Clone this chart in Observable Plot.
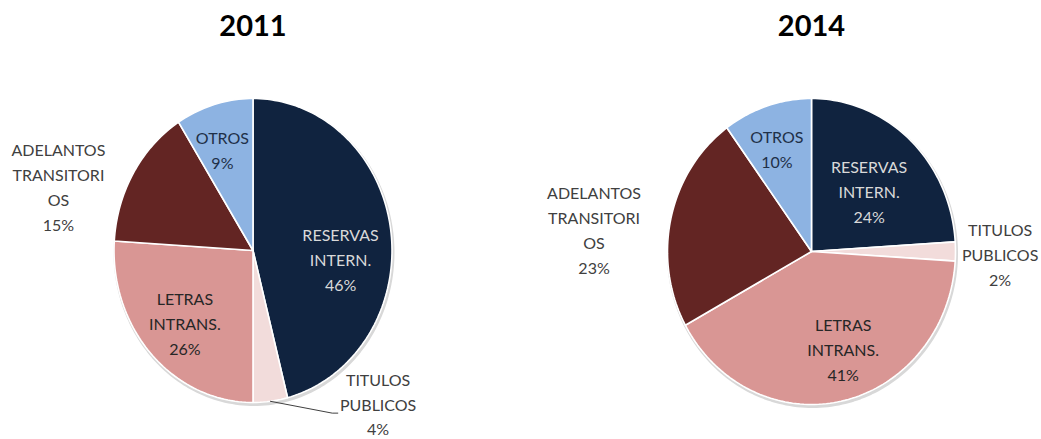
<!DOCTYPE html>
<html><head><meta charset="utf-8">
<script src="https://cdn.jsdelivr.net/npm/d3@7"></script>
<script src="https://cdn.jsdelivr.net/npm/@observablehq/plot@0.6"></script>
<style>body{margin:0;background:#fff}</style>
</head><body><div id="chart"></div>
<script>
// ---- data ----
const categories = ["RESERVAS INTERN.", "TITULOS PUBLICOS", "LETRAS INTRANS.", "ADELANTOS TRANSITORIOS", "OTROS"];
const labelLines = [["RESERVAS", "INTERN."], ["TITULOS", "PUBLICOS"], ["LETRAS", "INTRANS."], ["ADELANTOS", "TRANSITORI", "OS"], ["OTROS"]];
const years = ["2011", "2014"];
const values2011 = [46, 4, 26, 15, 9];
const values2014 = [24, 2, 41, 23, 10];

// ---- styles / layout ----
const sliceColors = ["#10233F", "#F2DCDB", "#D99694", "#632523", "#8DB3E2"];
const insideText = ["#D9D9D9", "#404040", "#262626", "#404040", "#1F3048"];
const outsideText = "#404040";
const pies = [
  {year: years[0], values: values2011, cx: 252.5, cy: 250, rx: 139, ry: 152,
   labels: [[0.63, 0.05, true], [0.90, 1.0, false], [-0.49, 0.47, true], [-1.40, -0.43, false], [-0.22, -0.67, true]],
   leader: [[0.57, 1.07], [0.61, 1.07]]},
  {year: years[1], values: values2014, cx: 811, cy: 251, rx: 144, ry: 153,
   labels: [[0.40, -0.40, true], [1.31, 0.01, false], [0.22, 0.63, true], [-1.51, -0.15, false], [-0.24, -0.68, true]],
   leader: null}
];

const font = "Lato, 'Open Sans', sans-serif";
const slicePts = [], ringPts = [], labelRows = [], leaderPts = [], titleRows = [];
const pieGen = d3.pie().sort(null).value(d => d);

pies.forEach(p => {
  const arcs = pieGen(p.values);
  const toXY = a => [p.cx + p.rx * Math.sin(a), p.cy - p.ry * Math.cos(a)];
  for (let i = 0; i <= 240; i++) {
    const [x, y] = toXY(2 * Math.PI * i / 240);
    ringPts.push({x, y, key: p.year});
  }
  arcs.forEach((a, i) => {
    const key = p.year + "-" + i;
    slicePts.push({x: p.cx, y: p.cy, key, color: sliceColors[i]});
    const n = Math.max(2, Math.ceil((a.endAngle - a.startAngle) / (2 * Math.PI) * 240));
    for (let k = 0; k <= n; k++) {
      const ang = a.startAngle + (a.endAngle - a.startAngle) * k / n;
      const [x, y] = toXY(ang);
      slicePts.push({x, y, key, color: sliceColors[i]});
    }
    const [lx, ly, inside] = p.labels[i];
    labelRows.push({
      x: p.cx + lx * p.rx, y: p.cy + ly * p.ry,
      text: [...labelLines[i], p.values[i] + "%"].join("\n"),
      color: inside ? insideText[i] : outsideText
    });
    if (i === 1 && p.leader) {
      const mid = (a.startAngle + a.endAngle) / 2;
      const [ex, ey] = toXY(mid);
      leaderPts.push({x: ex, y: ey});
      p.leader.forEach(([u, v]) => leaderPts.push({x: p.cx + u * p.rx, y: p.cy + v * p.ry}));
    }
  });
  titleRows.push({x: p.cx, y: 26, text: p.year});
});

const chart = Plot.plot({
  width: 1041, height: 439, margin: 0,
  x: {domain: [0, 1041], range: [0, 1041], axis: null},
  y: {domain: [0, 439], range: [0, 439], axis: null},
  color: {type: "identity"},
  style: {fontFamily: font, background: "#fff"},
  marks: [
    Plot.line(ringPts, {x: "x", y: "y", z: "key", curve: "linear-closed", fill: "#cfcfcf", stroke: "#d8d8d8", strokeWidth: 3, dx: 1, dy: 2}),
    Plot.line(slicePts, {x: "x", y: "y", z: "key", curve: "linear-closed", fill: "color", stroke: "#fff", strokeWidth: 1.6, strokeLinejoin: "round"}),
    Plot.line(leaderPts, {x: "x", y: "y", stroke: "#404040", strokeWidth: 1}),
    Plot.text(labelRows, {x: "x", y: "y", text: "text", fill: "color", fontSize: 16, lineHeight: 1.56, lineAnchor: "middle", textAnchor: "middle", fontFamily: font}),
    Plot.text(titleRows, {x: "x", y: "y", text: "text", fill: "#000", fontSize: 29, fontWeight: "bold", fontFamily: font})
  ]
});
document.getElementById("chart").appendChild(chart);
</script>
</body></html>
